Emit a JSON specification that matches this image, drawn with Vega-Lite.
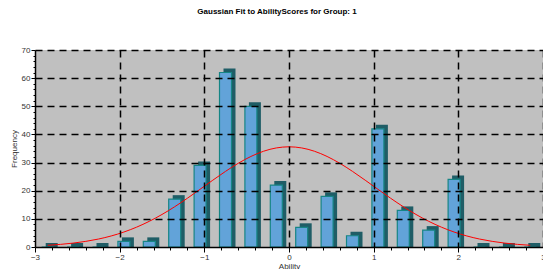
{
  "$schema": "https://vega.github.io/schema/vega-lite/v6.json",
  "autosize": "none",
  "width": 508,
  "height": 197,
  "padding": {"left": 35, "top": 50, "right": 0, "bottom": 22},
  "background": "white",
  "config": {"view": {"fill": "#c0c0c0", "stroke": null}, "font": "Liberation Sans"},
  "title": {"text": "Gaussian Fit to AbilityScores for Group: 1", "fontSize": 8, "fontWeight": "bold", "font": "Liberation Sans", "color": "black", "offset": 30, "dx": -12},
  "datasets": {
    "bars": [
      {"mid": -2.85, "count": 0}, {"mid": -2.55, "count": 0}, {"mid": -2.25, "count": 0},
      {"mid": -1.95, "count": 2}, {"mid": -1.65, "count": 2}, {"mid": -1.35, "count": 17},
      {"mid": -1.05, "count": 29}, {"mid": -0.75, "count": 62}, {"mid": -0.45, "count": 50},
      {"mid": -0.15, "count": 22}, {"mid": 0.15, "count": 7}, {"mid": 0.45, "count": 18},
      {"mid": 0.75, "count": 4}, {"mid": 1.05, "count": 42}, {"mid": 1.35, "count": 13},
      {"mid": 1.65, "count": 6}, {"mid": 1.95, "count": 24}, {"mid": 2.25, "count": 0},
      {"mid": 2.55, "count": 0}, {"mid": 2.85, "count": 0}
    ],
    "curve": [
      {"x": -2.85, "y": 0.61}, {"x": -2.7, "y": 0.93}, {"x": -2.55, "y": 1.38}, {"x": -2.4, "y": 2.0},
      {"x": -2.25, "y": 2.83}, {"x": -2.1, "y": 3.92}, {"x": -1.95, "y": 5.32}, {"x": -1.8, "y": 7.05},
      {"x": -1.65, "y": 9.13}, {"x": -1.5, "y": 11.56}, {"x": -1.35, "y": 14.31}, {"x": -1.2, "y": 17.33},
      {"x": -1.05, "y": 20.51}, {"x": -0.9, "y": 23.74}, {"x": -0.75, "y": 26.87}, {"x": -0.6, "y": 29.74},
      {"x": -0.45, "y": 32.17}, {"x": -0.3, "y": 34.03}, {"x": -0.15, "y": 35.2}, {"x": 0, "y": 35.6},
      {"x": 0.15, "y": 35.2}, {"x": 0.3, "y": 34.03}, {"x": 0.45, "y": 32.17}, {"x": 0.6, "y": 29.74},
      {"x": 0.75, "y": 26.87}, {"x": 0.9, "y": 23.74}, {"x": 1.05, "y": 20.51}, {"x": 1.2, "y": 17.33},
      {"x": 1.35, "y": 14.31}, {"x": 1.5, "y": 11.56}, {"x": 1.65, "y": 9.13}, {"x": 1.8, "y": 7.05},
      {"x": 1.95, "y": 5.32}, {"x": 2.1, "y": 3.92}, {"x": 2.25, "y": 2.83}, {"x": 2.4, "y": 2.0},
      {"x": 2.55, "y": 1.38}, {"x": 2.7, "y": 0.93}, {"x": 2.85, "y": 0.61}
    ]
  },
  "layer": [
    {
      "data": {"name": "bars"},
      "mark": {"type": "bar", "width": 12, "color": "#1f5d66", "xOffset": 4, "x2Offset": 4, "yOffset": -4, "y2Offset": 0},
      "encoding": {
        "x": {"field": "mid", "type": "quantitative", "scale": {"domain": [-3, 3], "nice": false, "zero": false, "padding": 0},
          "axis": {
            "title": "Ability", "titleFontSize": 8, "titleFontWeight": "normal", "titleColor": "#333", "titlePadding": 1,
            "values": [-3, -2.8, -2.6, -2.4, -2.2, -2, -1.8, -1.6, -1.4, -1.2, -1, -0.8, -0.6, -0.4, -0.2, 0, 0.2, 0.4, 0.6, 0.8, 1, 1.2, 1.4, 1.6, 1.8, 2, 2.2, 2.4, 2.6, 2.8, 3],
            "tickCount": 200,
            "labelExpr": "abs(datum.value - round(datum.value)) < 0.001 ? format(datum.value, 'd') : ''",
            "labelOverlap": false,
            "labelFontSize": 8, "labelColor": "#333", "labelPadding": 1, "labelFlush": false,
            "tickColor": "black", "tickWidth": 1,
            "tickSize": {"condition": {"test": "abs(datum.value - round(datum.value)) < 0.001", "value": 5}, "value": 3},
            "domainColor": "black", "domainWidth": 1.5,
            "grid": true, "gridColor": "black", "gridWidth": 1.5, "gridDash": [7, 5],
            "gridOpacity": {"condition": {"test": "abs(datum.value - round(datum.value)) < 0.001 && datum.value > -3", "value": 1}, "value": 0},
            "zindex": 1
          }
        },
        "y": {"field": "count", "type": "quantitative", "scale": {"domain": [0, 70], "nice": false, "padding": 0},
          "axis": {
            "title": "Frequency", "titleFontSize": 8, "titleFontWeight": "normal", "titleColor": "#333", "titlePadding": 3,
            "values": [0, 2, 4, 6, 8, 10, 12, 14, 16, 18, 20, 22, 24, 26, 28, 30, 32, 34, 36, 38, 40, 42, 44, 46, 48, 50, 52, 54, 56, 58, 60, 62, 64, 66, 68, 70],
            "tickCount": 200,
            "labelExpr": "datum.value % 10 === 0 ? format(datum.value, 'd') : ''",
            "labelOverlap": false,
            "labelFontSize": 8, "labelColor": "#333", "labelPadding": 1,
            "tickColor": "black", "tickWidth": 1,
            "tickSize": {"condition": {"test": "datum.value % 10 === 0", "value": 4}, "value": 2},
            "domainColor": "black", "domainWidth": 1.5,
            "grid": true, "gridColor": "black", "gridWidth": 1.5, "gridDash": [7, 5],
            "gridOpacity": {"condition": {"test": "datum.value % 10 === 0 && datum.value > 0", "value": 1}, "value": 0},
            "zindex": 1
          }
        },
        "y2": {"datum": 0}
      }
    },
    {
      "data": {"name": "bars"},
      "mark": {"type": "bar", "width": 12, "color": "#62a3d9", "stroke": "#168585", "strokeWidth": 1.2},
      "encoding": {
        "x": {"field": "mid", "type": "quantitative"},
        "y": {"field": "count", "type": "quantitative"}
      }
    },
    {
      "data": {"name": "curve"},
      "mark": {"type": "line", "color": "#ff0000", "strokeWidth": 1, "interpolate": "monotone"},
      "encoding": {
        "x": {"field": "x", "type": "quantitative"},
        "y": {"field": "y", "type": "quantitative"}
      }
    }
  ]
}
